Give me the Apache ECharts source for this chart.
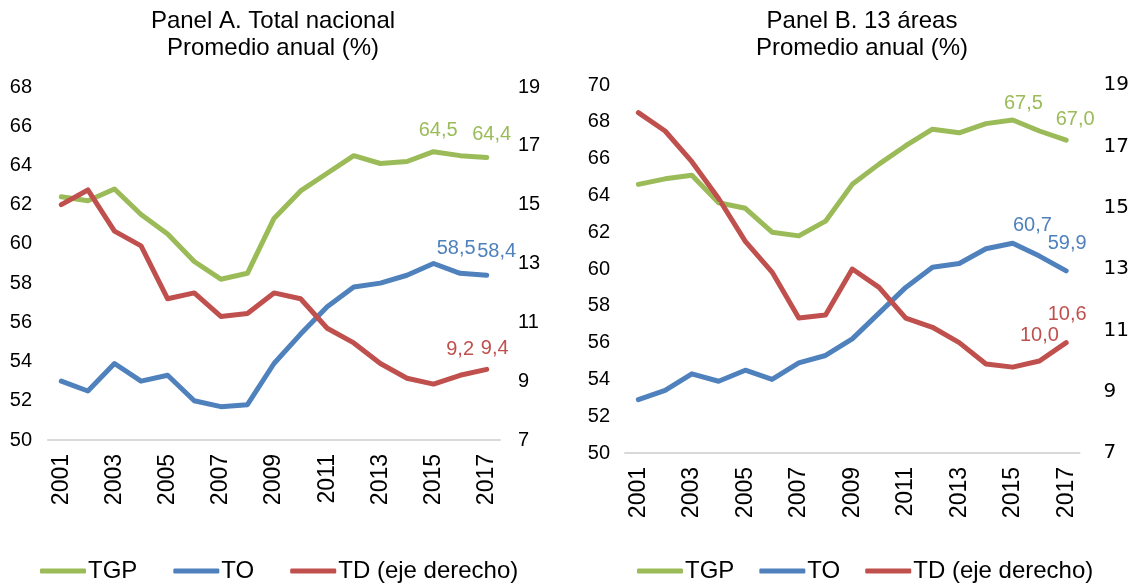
<!DOCTYPE html>
<html>
<head>
<meta charset="utf-8">
<title>TGP, TO y TD</title>
<script src="https://cdn.jsdelivr.net/npm/echarts@6/dist/echarts.min.js"></script>
<style>
	html, body { margin: 0; padding: 0; background: #fff; }
	#main { width: 1132px; height: 584px; }
</style>
</head>
<body>
<div id="main"></div>
<script>
var years = ['2001', '2002', '2003', '2004', '2005', '2006', '2007', '2008', '2009',
	'2010', '2011', '2012', '2013', '2014', '2015', '2016', '2017'];

// Panel A. Total nacional
var tgpA = [62.4, 62.2, 62.8, 61.5, 60.5, 59.1, 58.2, 58.5, 61.3, 62.7, 63.6, 64.5, 64.1, 64.2, 64.7, 64.5, 64.4];
var toA = [53.0, 52.5, 53.9, 53.0, 53.3, 52.0, 51.7, 51.8, 53.9, 55.4, 56.8, 57.8, 58.0, 58.4, 59.0, 58.5, 58.4];
var tdA = [15.0, 15.5, 14.1, 13.6, 11.8, 12.0, 11.2, 11.3, 12.0, 11.8, 10.8, 10.3, 9.6, 9.1, 8.9, 9.2, 9.4];

// Panel B. 13 areas
var tgpB = [64.6, 64.9, 65.1, 63.6, 63.3, 62.0, 61.8, 62.6, 64.6, 65.7, 66.7, 67.6, 67.4, 67.9, 68.1, 67.5, 67.0];
var toB = [52.9, 53.4, 54.3, 53.9, 54.5, 54.0, 54.9, 55.3, 56.2, 57.6, 59.0, 60.1, 60.3, 61.1, 61.4, 60.7, 59.9];
var tdB = [18.1, 17.5, 16.5, 15.3, 13.9, 12.9, 11.4, 11.5, 13.0, 12.4, 11.4, 11.1, 10.6, 9.9, 9.8, 10.0, 10.6];

var seriesNames = ['TGP', 'TO', 'TD (eje derecho)'];
var colors = ['#9BBB59', '#4F81BD', '#C0504D'];
var font = 'Liberation Sans, Arial, sans-serif';

// label offsets for the last two points (2016, 2017), [dx, dy] from the point
var labelOffsets = {
	tgpA: [[-22, -25], [5, -23]],
	toA: [[-4, -25], [10, -24]],
	tdA: [[0, -26], [8, -21]],
	tgpB: [[-16, -28], [9, -21]],
	toB: [[-7, -31], [1, -27]],
	tdB: [[0, -26], [1, -28]]
};

function fmt(v) {
	return v.toFixed(1).replace('.', ',');
}

function buildData(values, offsets, color) {
	var out = [];
	for (var i = 0, l = values.length; i < l; i++) {
		var k = i - (l - 2);
		if (k >= 0) {
			out.push({
				value: values[i],
				label: {
					show: true,
					position: 'inside',
					offset: offsets[k],
					formatter: fmt(values[i]),
					color: color,
					fontSize: 20,
					fontFamily: font
				}
			});
		} else {
			out.push(values[i]);
		}
	}
	return out;
}

function lineSeries(name, idx, values, key, axisIdx) {
	return {
		name: name,
		type: 'line',
		xAxisIndex: axisIdx[0],
		yAxisIndex: axisIdx[1],
		symbol: 'circle',
		symbolSize: 2,
		showSymbol: true,
		silent: true,
		lineStyle: { width: 5, color: colors[idx], cap: 'round', join: 'round' },
		itemStyle: { color: colors[idx] },
		data: buildData(values, labelOffsets[key], colors[idx])
	};
}

function xAxis(gridIdx) {
	return {
		type: 'category',
		gridIndex: gridIdx,
		data: years,
		boundaryGap: true,
		axisLine: { lineStyle: { color: '#d9d9d9', width: 2 } },
		axisTick: { show: false },
		axisLabel: {
			interval: 1,
			rotate: 90,
			margin: 14,
			color: '#000',
			fontSize: 23,
			fontFamily: font
		}
	};
}

function yAxis(gridIdx, min, max, margin, labelFont) {
	return {
		type: 'value',
		gridIndex: gridIdx,
		min: min,
		max: max,
		interval: 2,
		axisLine: { show: false },
		axisTick: { show: false },
		splitLine: { show: false },
		axisLabel: {
			margin: margin,
			color: '#000',
			fontSize: 20,
			fontFamily: labelFont || font
		}
	};
}

function legend(left, gap) {
	return {
		left: left,
		top: 554,
		width: 540,
		icon: 'roundRect',
		itemWidth: 46,
		itemHeight: 5,
		itemGap: gap,
		data: seriesNames,
		textStyle: { color: '#000', fontSize: 24, fontFamily: font, padding: [0, 0, 0, -3] }
	};
}

function titleBlock(text, x) {
	return {
		text: text,
		left: x,
		top: 3,
		textAlign: 'center',
		textStyle: { color: '#000', fontSize: 24, fontWeight: 'normal', fontFamily: font, lineHeight: 27 }
	};
}

var leftYA = yAxis(0, 50, 68, 16);
var rightYA = yAxis(0, 7, 19, 18);
rightYA.position = 'right';
var leftYB = yAxis(1, 50, 70, 15);
var rightYB = yAxis(1, 7, 19, 24, 'DejaVu Sans, sans-serif');
rightYB.position = 'right';

var option = {
	animation: false,
	backgroundColor: '#fff',
	title: [
		titleBlock('Panel A. Total nacional\nPromedio anual (%)', 268),
		titleBlock('Panel B. 13 áreas\nPromedio anual (%)', 857)
	],
	legend: [legend(35, 36), legend(632, 25)],
	grid: [
		{ left: 48, right: 632, top: 87, bottom: 144 },
		{ left: 625, right: 50, top: 85, bottom: 131 }
	],
	xAxis: [xAxis(0), xAxis(1)],
	yAxis: [leftYA, rightYA, leftYB, rightYB],
	series: [
		lineSeries('TGP', 0, tgpA, 'tgpA', [0, 0]),
		lineSeries('TO', 1, toA, 'toA', [0, 0]),
		lineSeries('TD (eje derecho)', 2, tdA, 'tdA', [0, 1]),
		lineSeries('TGP', 0, tgpB, 'tgpB', [1, 2]),
		lineSeries('TO', 1, toB, 'toB', [1, 2]),
		lineSeries('TD (eje derecho)', 2, tdB, 'tdB', [1, 3])
	]
};

var chart = echarts.init(document.getElementById('main'));
chart.setOption(option);
</script>
</body>
</html>
